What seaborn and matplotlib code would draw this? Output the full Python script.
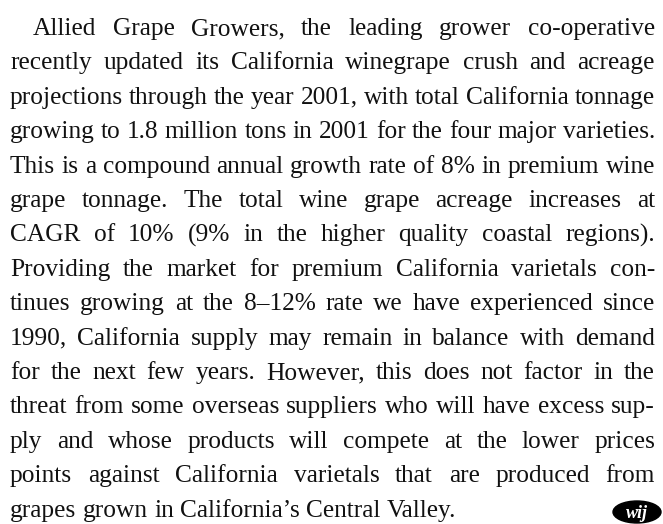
import matplotlib
matplotlib.use("Agg")
import matplotlib.pyplot as plt
import seaborn as sns
from matplotlib.patches import Ellipse

# paragraph lines, as set in the reference column
lines = [
    "Allied Grape Growers, the leading grower co-operative",
    "recently updated its California winegrape crush and acreage",
    "projections through the year 2001, with total California tonnage",
    "growing to 1.8 million tons in 2001 for the four major varieties.",
    "This is a compound annual growth rate of 8% in premium wine",
    "grape tonnage. The total wine grape acreage increases at",
    "CAGR of 10% (9% in the higher quality coastal regions).",
    "Providing the market for premium California varietals con-",
    "tinues growing at the 8\u201312% rate we have experienced since",
    "1990, California supply may remain in balance with demand",
    "for the next few years. However, this does not factor in the",
    "threat from some overseas suppliers who will have excess sup-",
    "ply and whose products will compete at the lower prices",
    "points against California varietals that are produced from",
    "grapes grown in California\u2019s Central Valley.",
]
logo_text = "wij"

sns.set_theme(style="white")
plt.rcParams['font.family'] = ['Liberation Serif', 'DejaVu Serif']

W, H = 663, 524
fig = plt.figure(figsize=(W / 100, H / 100), dpi=100)
ax = fig.add_axes([0, 0, 1, 1])
ax.set_xlim(0, W)
ax.set_ylim(H, 0)
ax.axis('off')

left, right = 10, 655
indent = 23
first_base, leading = 35, 34.4
renderer = fig.canvas.get_renderer()


def word_width(word, size):
    t = ax.text(0, 0, word, fontsize=size)
    w = t.get_window_extent(renderer).width
    t.remove()
    return w


# pick the font size so the tightest line fits with a normal word space
ref = 20.0
best = 40.0
for i, line in enumerate(lines[:-1]):
    words = line.split()
    nat = sum(word_width(w, ref) for w in words) + (len(words) - 1) * ref * 100 / 72 * 0.22
    avail = right - left - (indent if i == 0 else 0)
    best = min(best, ref * avail / nat)
fs = best * 0.995

for i, line in enumerate(lines):
    words = line.split()
    widths = [word_width(w, fs) for w in words]
    x0 = left + (indent if i == 0 else 0)
    y = first_base + i * leading
    if i < len(lines) - 1:
        gap = (right - x0 - sum(widths)) / (len(words) - 1)
    else:
        gap = fs * 100 / 72 * 0.25
    x = x0
    for w, wd in zip(words, widths):
        ax.text(x, y, w, fontsize=fs, color='#111111', va='baseline', ha='left')
        x += wd + gap

# the small "wij" end mark
ax.add_patch(Ellipse((637, 512), 48, 22, color='black'))
ax.text(637, 513, logo_text, fontsize=13, color='white', style='italic',
        fontweight='bold', ha='center', va='center')

fig.savefig("out.png", dpi=100, facecolor='white')
